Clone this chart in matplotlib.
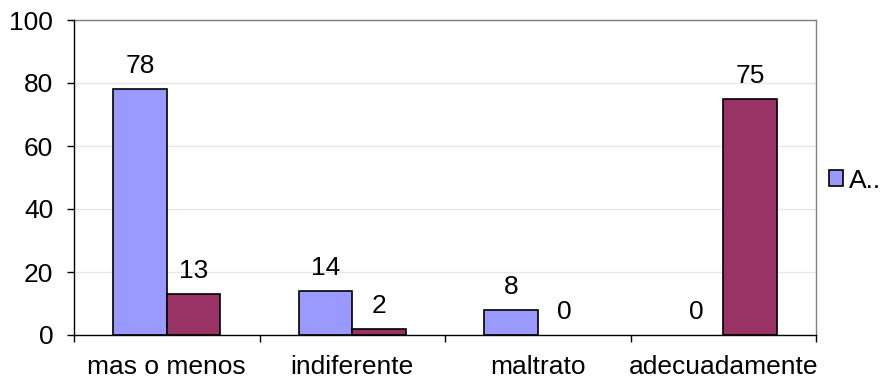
import matplotlib
matplotlib.use("Agg")
import matplotlib.pyplot as plt
import numpy as np

plt.rcParams['font.family'] = ['Liberation Sans', 'DejaVu Sans']

categories = ["mas o menos", "indiferente", "maltrato", "adecuadamente"]
series_a = [78, 14, 8, 0]
series_b = [13, 2, 0, 75]
legend_label = "A.."

fig = plt.figure(figsize=(8.82, 3.81), dpi=100)
ax = fig.add_axes([74/882, 46/381, (816-74)/882, (335-20)/381])

x = np.arange(len(categories))
w = 0.289
lw_a = [1.2 if v > 0 else 0 for v in series_a]
lw_b = [1.2 if v > 0 else 0 for v in series_b]
b1 = ax.bar(x - w/2, series_a, w, color="#9999FF", edgecolor="black", linewidth=lw_a, label=legend_label, zorder=3)
b2 = ax.bar(x + w/2, series_b, w, color="#993366", edgecolor="black", linewidth=lw_b, zorder=3)

fs = 19
for rects, vals in ((b1, series_a), (b2, series_b)):
    for r, v in zip(rects, vals):
        ax.annotate(str(v), (r.get_x() + r.get_width()/2, v), xytext=(0, 11.5),
                    textcoords="offset points", ha="center", va="baseline", fontsize=fs)

ax.set_xlim(-0.5, len(categories) - 0.5)
ax.set_ylim(0, 100)
ax.set_yticks([0, 20, 40, 60, 80, 100])
ax.yaxis.grid(True, color="#e6e6e6", linewidth=1, zorder=0)
ax.set_axisbelow(True)
ax.tick_params(axis="y", labelsize=fs, direction="out", length=5, width=1, pad=10)
ax.set_xticks(x)
ax.set_xticklabels(categories, fontsize=fs)
ax.tick_params(axis="x", length=0, pad=14.5)
ax.set_xticks(np.arange(-0.5, len(categories)), minor=True)
ax.tick_params(axis="x", which="minor", length=5, width=1, direction="out")

for s in ("top", "right"):
    ax.spines[s].set_color("#808080")
    ax.spines[s].set_linewidth(1)
for s in ("left", "bottom"):
    ax.spines[s].set_color("black")
    ax.spines[s].set_linewidth(1)
    ax.spines[s].set_zorder(4)

leg = ax.legend(loc="center left", bbox_to_anchor=(1.0175, 0.49), frameon=False,
                fontsize=fs, handlelength=0.55, handleheight=0.55, handletextpad=0.2,
                borderaxespad=0, borderpad=0)

fig.savefig("out.png", dpi=100)
